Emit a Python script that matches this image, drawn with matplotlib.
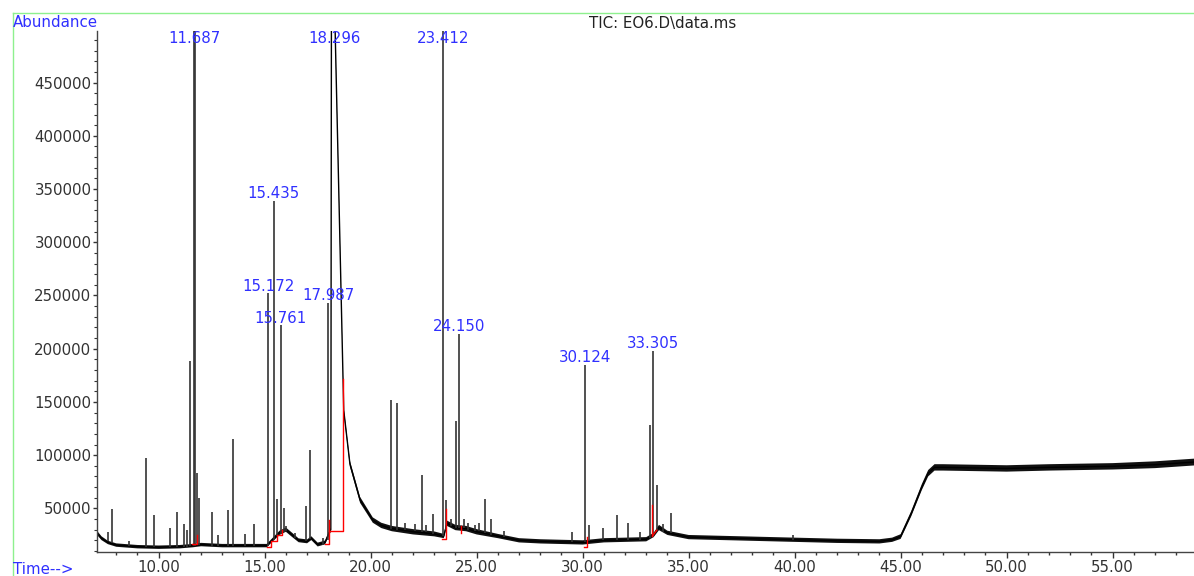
import matplotlib
matplotlib.use('Agg')
import matplotlib.pyplot as plt
from matplotlib.lines import Line2D
from matplotlib.ticker import MultipleLocator, FormatStrFormatter

plt.rcParams['font.family'] = 'DejaVu Sans'
plt.rcParams['font.size'] = 10.8

# baseline of the TIC trace (time in min, abundance, noise half-width)
base_t = [7.09, 7.3, 7.6, 8.0, 9.0, 10.0, 11.0, 11.6, 12.0, 13.0, 14.0, 14.8, 15.1, 15.4, 15.7,
          16.0, 16.3, 16.6, 17.0, 17.2, 17.5, 17.85, 18.0, 18.12, 18.16, 18.28, 18.30, 18.73,
          19.02, 19.5, 20.1, 20.5, 21.0, 22.0, 23.0, 23.45, 23.6, 24.0, 24.5, 25.0, 26.0, 27.0,
          28.0, 29.0, 30.0, 31.0, 32.0, 33.0, 33.35, 33.6, 34.0, 34.5, 35.0, 37.0, 40.0, 42.0,
          44.0, 44.6, 45.0, 45.5, 46.0, 46.3, 46.6, 47.0, 50.0, 52.0, 55.0, 57.0, 58.84]
base_y = [27000, 22000, 18000, 15500, 14000, 13500, 14000, 15000, 16000, 15000, 15000, 15000, 15000,
          21000, 27000, 30000, 25000, 20000, 19000, 22000, 16000, 18000, 25000, 30000, 700000, 700000,
          520000, 142000, 92000, 58000, 39000, 34000, 31000, 28000, 26000, 24000, 36000, 32000, 31000,
          28000, 24000, 20000, 19000, 18500, 18000, 20000, 20500, 21000, 25000, 32000, 27000, 25000,
          23000, 22000, 20500, 19500, 19000, 20500, 23500, 45000, 70000, 83000, 88500, 88500, 87500,
          88500, 89500, 91000, 93500]
noise = [2000, 1800, 1600, 1600, 1600, 1600, 1600, 1600, 1600, 1600, 1600, 1600, 1600, 1800, 2000,
         2000, 2000, 1800, 1800, 1800, 1800, 1800, 2000, 2000, 2000, 2000, 2000, 2500, 2800, 2800,
         2500, 2500, 2500, 2500, 2300, 2000, 2500, 2500, 2500, 2500, 2000, 2000, 2000, 2000, 2000,
         2000, 2000, 2000, 2000, 2500, 2000, 2000, 2000, 2000, 2000, 2000, 2000, 2000, 2200, 2500,
         2800, 3000, 3000, 3000, 3000, 3000, 3000, 3200, 3200]

# individual peaks: retention time, apex, foot
peak_t = [7.60, 7.80, 8.6, 9.41, 9.79, 10.55, 10.85, 11.19, 11.33, 11.48, 11.687, 11.70, 11.82,
          11.92, 12.53, 12.78, 13.28, 13.52, 14.08, 14.51, 15.172, 15.435, 15.59, 15.761, 15.89,
          16.0, 16.43, 16.95, 17.14, 17.75, 17.987, 20.95, 21.25, 21.6, 22.1, 22.40, 22.6, 22.92,
          23.412, 23.55, 23.8, 24.01, 24.15, 24.4, 24.6, 24.9, 25.1, 25.39, 25.70, 26.3, 29.48,
          30.124, 30.30, 30.97, 31.60, 32.14, 32.7, 33.18, 33.305, 33.52, 33.8, 34.18, 39.9]
peak_h = [28000, 49000, 19000, 97000, 43500, 32000, 47000, 35000, 29500, 188000, 700000, 700000,
          83000, 60000, 47000, 25000, 48000, 115000, 26000, 35000, 252000, 339000, 58500, 222000,
          50000, 33000, 26500, 52000, 105000, 22000, 243000, 152000, 149000, 36000, 35000, 81000,
          34000, 45000, 700000, 58000, 40000, 132000, 214000, 40000, 36000, 34000, 36000, 58500,
          39700, 29000, 28000, 185000, 34300, 31800, 43700, 35900, 28000, 128000, 198000, 72000,
          35000, 46000, 25000]
peak_b = [19000, 17000, 15000, 14000, 14000, 14000, 14000, 14000, 14000, 15000, 15000, 15000,
          17000, 16000, 15000, 15000, 15000, 15000, 15000, 15000, 15000, 20000, 24000, 26000, 28000,
          29000, 22000, 19000, 21000, 16000, 20000, 31000, 30000, 30000, 28500, 28000, 27500, 26000,
          24000, 30000, 33000, 32000, 32000, 31500, 30000, 29000, 28500, 27000, 25000, 23000, 18500,
          18000, 19000, 20000, 20000, 20500, 20500, 22000, 23000, 30000, 28000, 27000, 20500]

# labelled peaks
label_txt = ['11.687', '15.172', '15.435', '15.761', '17.987', '18.296', '23.412', '24.150',
             '30.124', '33.305']
label_t = [11.687, 15.172, 15.435, 15.761, 17.987, 18.296, 23.412, 24.150, 30.124, 33.305]
label_h = [700000, 252000, 339000, 222000, 243000, 700000, 700000, 214000, 185000, 198000]

# integration baselines (red)
red_lines = [
    ([11.57, 11.80, 11.80], [16500, 16500, 25000]),
    ([15.10, 15.30, 15.30, 15.59, 15.59, 15.82, 15.82], [14000, 14000, 19500, 19500, 25000, 25000, 29600]),
    ([17.85, 18.05, 18.05], [16500, 16500, 39000]),
    ([18.05, 18.68, 18.68], [29000, 29000, 172000]),
    ([23.35, 23.57, 23.57], [21000, 21000, 49000]),
    ([24.25, 24.25], [27000, 33000]),
    ([30.05, 30.19, 30.19], [14000, 14000, 22700]),
    ([33.29, 33.29], [24000, 53000]),
    ([33.29, 33.50], [24000, 29500]),
]

W, H = 1194, 576
fig = plt.figure(figsize=(W / 100, H / 100), dpi=100)
ax = fig.add_axes([97 / W, 24 / H, 1 - 97 / W, 521 / H])

lo = [b - n for b, n in zip(base_y, noise)]
hi = [b + n for b, n in zip(base_y, noise)]
ax.fill_between(base_t, lo, hi, color='#111111', lw=0)
ax.plot(base_t, base_y, color='black', lw=1.0)
ax.vlines(peak_t, peak_b, peak_h, color='#333333', lw=1.2)
for xs, ys in red_lines:
    ax.plot(xs, ys, color='red', lw=1.0)

ymax = 498500
for txt, t, h in zip(label_txt, label_t, label_h):
    y = min(h, 485000)
    ax.annotate(txt, (t, y), xytext=(0, 2), textcoords='offset points', ha='center',
                va='baseline', color='#3030ff', annotation_clip=False)

ax.set_xlim(7.09, 58.84)
ax.set_ylim(9000, ymax)
ax.xaxis.set_major_locator(MultipleLocator(5))
ax.xaxis.set_minor_locator(MultipleLocator(1))
ax.xaxis.set_major_formatter(FormatStrFormatter('%.2f'))
ax.yaxis.set_major_locator(MultipleLocator(50000))
ax.yaxis.set_minor_locator(MultipleLocator(10000))
ax.tick_params(axis='x', which='major', length=4.5, width=1, pad=1, colors='#333333')
ax.tick_params(axis='x', which='minor', length=2.5, width=1, colors='#333333')
ax.tick_params(axis='y', which='major', length=3, width=1, pad=1, colors='#333333')
ax.tick_params(axis='y', which='minor', length=2, width=0.8, colors='#333333')
for s in ['top', 'right']:
    ax.spines[s].set_visible(False)
for s in ['left', 'bottom']:
    ax.spines[s].set_color('#444444')
    ax.spines[s].set_linewidth(1.0)

# frame and header texts
fig.add_artist(Line2D([12.7 / W, 1], [1 - 12.7 / H, 1 - 12.7 / H], color='#8ef08e', lw=1))
fig.add_artist(Line2D([12.7 / W, 12.7 / W], [0, 1 - 12.7 / H], color='#8ef08e', lw=1))
fig.text(13 / W, 1 - 26.7 / H, 'Abundance', color='#3030ff', va='baseline', ha='left')
fig.text(13 / W, 2 / H, 'Time-->', color='#3030ff', va='baseline', ha='left')
fig.text(589 / W, 1 - 28 / H, 'TIC: EO6.D\\data.ms', color='#222222', va='baseline', ha='left')

fig.savefig('out.png', dpi=100, facecolor='white')
